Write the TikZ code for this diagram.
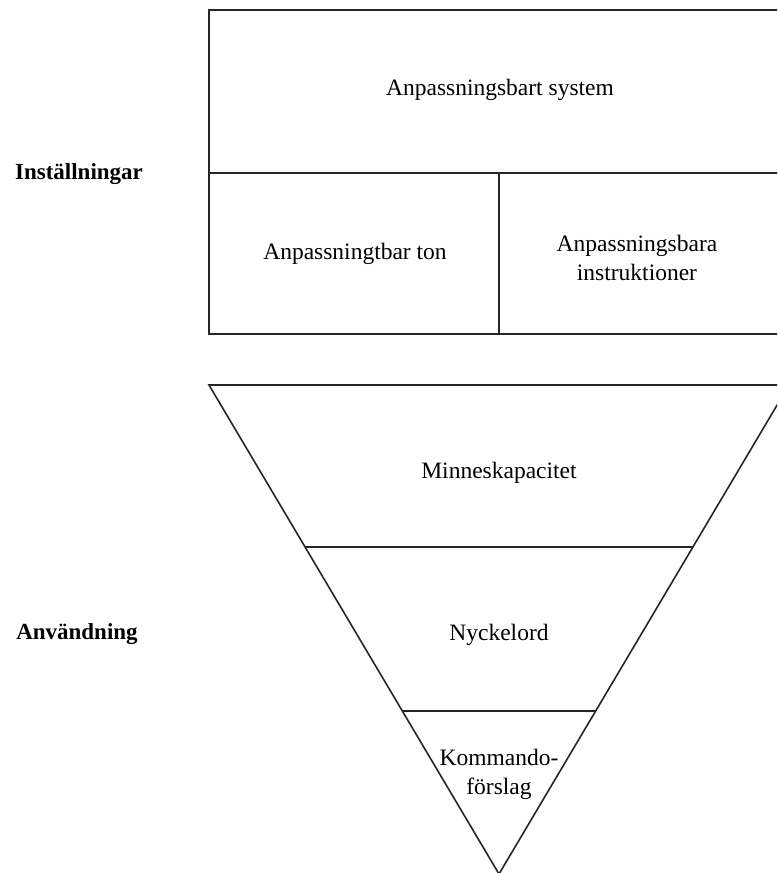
\documentclass[tikz,border=0pt]{standalone}
\usepackage{fontspec}
\setmainfont{Liberation Serif}
\begin{document}
\begin{tikzpicture}[x=1pt,y=-1pt,
  shapeline/.style={draw=black!85, line width=1.6pt},
  lbl/.style={font=\fontsize{23.5}{29}\selectfont, align=center, inner sep=0pt},
  side/.style={font=\bfseries\fontsize{23}{26}\selectfont, inner sep=0pt}]
\useasboundingbox (0,0) rectangle (777,873);
\clip (0,0) rectangle (777,873);
% top block
\coordinate (r1) at (209,10);
\coordinate (r2) at (795,334);
\draw[shapeline] (r1) rectangle (r2);
\draw[shapeline] (209,173) -- (795,173);
\draw[shapeline] (499,173) -- (499,334);
\node[lbl] (sys) at (500,90) {Anpassningsbart system};
\node[lbl] (ton) at (355,254) {Anpassningtbar ton};
\node[lbl] (ins) at (637,258) {Anpassningsbara\\instruktioner};
% triangle
\coordinate (tl) at (209,385);
\coordinate (tr) at (789,385);
\coordinate (ap) at (499,874);
\draw[shapeline, line join=miter] (tl) -- (tr) -- (ap) -- cycle;
\draw[shapeline] (305,547) -- (693,547);
\draw[shapeline] (402,711) -- (596,711);
\node[lbl] (mk) at (499,473) {Minneskapacitet};
\node[lbl] (nk) at (499,635) {Nyckelord};
\node[lbl] (kf) at (499,774) {Kommando-\\förslag};
% side labels
\node[side] (inst) at (79,174) {Inställningar};
\node[side] (anv) at (77,634) {Användning};
\end{tikzpicture}
\end{document}
